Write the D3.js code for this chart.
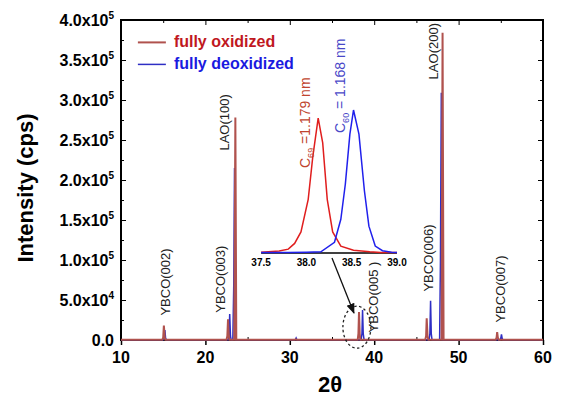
<!DOCTYPE html>
<html>
<head>
<meta charset="utf-8">
<script src="https://cdn.jsdelivr.net/npm/d3@7"></script>
<style>
  body { margin: 0; background: #fff; }
  text { font-family: Arial, "Liberation Sans", sans-serif; }
</style>
</head>
<body>
<div id="chart"></div>
<script>
// 2theta / intensity (cps) pairs
var oxidized = [
    [10, 400], [14.9, 400], [15.0, 3000], [15.08, 18000], [15.18, 3000], [15.25, 400],
    [22.5, 400], [22.6, 5000], [22.68, 26000], [22.78, 5000], [22.85, 400],
    [23.42, 400], [23.55, 278000], [23.66, 400],
    [30.6, 400], [30.7, 900], [30.8, 400],
    [38.05, 400], [38.13, 8000], [38.2, 35000], [38.28, 8000], [38.35, 400],
    [46.05, 400], [46.15, 5000], [46.22, 27000], [46.32, 5000], [46.42, 400],
    [47.98, 400], [48.1, 384000], [48.22, 400],
    [54.4, 400], [54.5, 3000], [54.57, 10000], [54.65, 3000], [54.75, 400],
    [60, 400]
];
var deoxidized = [
    [10, 300], [15.0, 300], [15.12, 2500], [15.2, 12500], [15.28, 2500], [15.38, 300],
    [22.7, 300], [22.8, 5000], [22.88, 32500], [22.97, 5000], [23.05, 300],
    [23.25, 300], [23.36, 69000], [23.45, 215000], [23.55, 300],
    [30.65, 300], [30.75, 2500], [30.85, 300],
    [38.45, 300], [38.55, 8000], [38.62, 37500], [38.7, 8000], [38.8, 300],
    [46.5, 300], [46.6, 8000], [46.68, 49000], [46.76, 8000], [46.85, 300],
    [47.75, 300], [47.85, 100000], [47.95, 309000], [48.06, 300],
    [54.9, 300], [55.0, 2000], [55.08, 7000], [55.16, 2000], [55.25, 300],
    [60, 300]
];

// zoomed YBCO(005) region shown in the inset
var insetOxidized = [
    [37.5, 200], [37.7, 500], [37.8, 1000], [37.87, 2500], [37.94, 5500], [38.02, 14000],
    [38.07, 25000], [38.13, 35200], [38.18, 28700], [38.23, 14000], [38.29, 5500],
    [38.38, 1800], [38.52, 700], [38.7, 300], [38.82, 150], [39.0, 100]
];
var insetDeoxidized = [
    [37.5, 100], [37.8, 150], [38.0, 200], [38.16, 300], [38.31, 2800], [38.38, 8800],
    [38.43, 18000], [38.48, 31000], [38.52, 37300], [38.58, 31000], [38.64, 16300],
    [38.69, 7000], [38.76, 1800], [38.84, 600], [38.94, 200], [39.0, 100]
];

var xTicks = [10, 20, 30, 40, 50, 60];
var yTicks = [0, 50000, 100000, 150000, 200000, 250000, 300000, 350000, 400000];
var insetTicks = [37.5, 38.0, 38.5, 39.0];

// peak labels: [text, 2theta at baseline, intensity at label centre]
var peakLabels = [
    ["YBCO(002)", 15.8, 72500],
    ["YBCO(003)", 22.3, 76000],
    ["LAO(100)", 22.78, 272000],
    ["YBCO(005 )", 40.4, 53750],
    ["YBCO(006)", 46.95, 102500],
    ["LAO(200)", 47.56, 361000],
    ["YBCO(007)", 55.5, 63750]
];

var redLine = "#b0524e";
var blueLine = "#2e2ec4";

var margin = { top: 20, right: 18, bottom: 57, left: 121 };
var width = 561 - margin.left - margin.right;
var height = 397 - margin.top - margin.bottom;

var svg = d3.select("#chart").append("svg")
    .attr("width", 561)
    .attr("height", 397)
    .append("g")
    .attr("transform", "translate(" + margin.left + "," + margin.top + ")");

var x = d3.scaleLinear().domain([10, 60]).range([0, width]);
var y = d3.scaleLinear().domain([0, 400000]).range([height, 0]);

// frame
svg.append("rect")
    .attr("width", width)
    .attr("height", height)
    .attr("fill", "none")
    .attr("stroke", "#000")
    .attr("stroke-width", 2);

// bottom axis: major out, minor in
svg.append("g")
    .attr("transform", "translate(0," + height + ")")
    .call(d3.axisBottom(x).tickValues(xTicks).tickSize(5).tickFormat(""))
    .call(g => g.select(".domain").remove())
    .selectAll("line").attr("stroke-width", 1.5);
svg.append("g")
    .attr("transform", "translate(0," + height + ")")
    .call(d3.axisTop(x).tickValues([15, 25, 35, 45, 55]).tickSize(3).tickFormat(""))
    .call(g => g.select(".domain").remove());
svg.selectAll(".xlab")
    .data(xTicks)
    .enter()
    .append("text")
    .attr("x", d => x(d))
    .attr("y", height + 23)
    .attr("text-anchor", "middle")
    .attr("font-size", "16px")
    .attr("font-weight", "bold")
    .text(d => d);

// top axis ticks inward
svg.append("g")
    .call(d3.axisBottom(x).tickValues(xTicks).tickSize(5).tickFormat(""))
    .call(g => g.select(".domain").remove());
svg.append("g")
    .call(d3.axisBottom(x).tickValues([15, 25, 35, 45, 55]).tickSize(3).tickFormat(""))
    .call(g => g.select(".domain").remove());

// left and right ticks inward
var yMinor = d3.range(25000, 400000, 50000);
svg.append("g")
    .call(d3.axisRight(y).tickValues(yTicks).tickSize(5).tickFormat(""))
    .call(g => g.select(".domain").remove());
svg.append("g")
    .call(d3.axisRight(y).tickValues(yMinor).tickSize(3).tickFormat(""))
    .call(g => g.select(".domain").remove());
svg.append("g")
    .attr("transform", "translate(" + width + ",0)")
    .call(d3.axisLeft(y).tickValues(yTicks).tickSize(5).tickFormat(""))
    .call(g => g.select(".domain").remove());
svg.append("g")
    .attr("transform", "translate(" + width + ",0)")
    .call(d3.axisLeft(y).tickValues(yMinor).tickSize(3).tickFormat(""))
    .call(g => g.select(".domain").remove());

// y tick labels like 4.0x10^5
var ylab = svg.selectAll(".ylab")
    .data(yTicks)
    .enter()
    .append("text")
    .attr("x", -7)
    .attr("y", d => y(d) + 6)
    .attr("text-anchor", "end")
    .attr("font-size", "16px")
    .attr("font-weight", "bold");
ylab.each(function(d) {
    var t = d3.select(this);
    if (d === 0) { t.text("0.0"); return; }
    var e = Math.floor(Math.log10(d));
    t.append("tspan").text((d / Math.pow(10, e)).toFixed(1) + "x10");
    t.append("tspan").attr("dy", -7).attr("font-size", "10px").text(e);
});

// axis titles
svg.append("text")
    .attr("x", width / 2 - 2)
    .attr("y", height + 52)
    .attr("text-anchor", "middle")
    .attr("font-size", "22px")
    .attr("font-weight", "bold")
    .text("2θ");
svg.append("text")
    .attr("transform", "rotate(-90)")
    .attr("x", -(188 - margin.top))
    .attr("y", 33 - margin.left)
    .attr("text-anchor", "middle")
    .attr("font-size", "22px")
    .attr("font-weight", "bold")
    .text("Intensity (cps)");

// data lines
var line = d3.line().x(d => x(d[0])).y(d => y(d[1]));
svg.append("path")
    .datum(deoxidized)
    .attr("d", line)
    .attr("fill", "none")
    .attr("stroke", blueLine)
    .attr("stroke-width", 1.5);
svg.append("path")
    .datum(oxidized)
    .attr("d", line)
    .attr("fill", "none")
    .attr("stroke", redLine)
    .attr("stroke-width", 2);

// peak labels
svg.selectAll(".peak")
    .data(peakLabels)
    .enter()
    .append("text")
    .attr("transform", d => "translate(" + x(d[1]) + "," + y(d[2]) + ") rotate(-90)")
    .attr("text-anchor", "middle")
    .attr("font-size", "13px")
    .attr("fill", "#222")
    .text(d => d[0]);

// legend
var legend = svg.append("g")
    .attr("transform", "translate(" + (x(12)) + "," + (y(372000)) + ")");
legend.append("line")
    .attr("x1", 0).attr("x2", 28).attr("y1", 0).attr("y2", 0)
    .attr("stroke", redLine).attr("stroke-width", 2);
legend.append("text")
    .attr("x", 36).attr("y", 5)
    .attr("font-size", "16px").attr("font-weight", "bold")
    .attr("fill", "#c0181e")
    .text("fully oxidized");
legend.append("line")
    .attr("x1", 0).attr("x2", 28).attr("y1", 22).attr("y2", 22)
    .attr("stroke", blueLine).attr("stroke-width", 1.5);
legend.append("text")
    .attr("x", 36).attr("y", 27)
    .attr("font-size", "16px").attr("font-weight", "bold")
    .attr("fill", "#1a1ae0")
    .text("fully deoxidized");

// inset
var ix = d3.scaleLinear().domain([37.5, 39.0]).range([x(26.6), x(42.7)]);
var iy = d3.scaleLinear().domain([0, 37300]).range([y(108750), y(287500)]);

svg.append("line")
    .attr("x1", ix(37.5)).attr("x2", ix(39.0))
    .attr("y1", iy(0)).attr("y2", iy(0))
    .attr("stroke", "#000").attr("stroke-width", 1.5);
svg.selectAll(".ilab")
    .data(insetTicks)
    .enter()
    .append("text")
    .attr("x", d => ix(d))
    .attr("y", iy(0) + 13)
    .attr("text-anchor", "middle")
    .attr("font-size", "10px")
    .attr("font-weight", "bold")
    .text(d => d.toFixed(1));

var iline = d3.line().x(d => ix(d[0])).y(d => iy(d[1]));
svg.append("path")
    .datum(insetOxidized)
    .attr("d", iline)
    .attr("fill", "none")
    .attr("stroke", "#e01e1e")
    .attr("stroke-width", 1.5);
svg.append("path")
    .datum(insetDeoxidized)
    .attr("d", iline)
    .attr("fill", "none")
    .attr("stroke", "#2020ec")
    .attr("stroke-width", 1.5);

var cRed = svg.append("text")
    .attr("transform", "translate(" + ix(38.04) + "," + iy(22170) + ") rotate(-90)")
    .attr("font-size", "14px")
    .attr("fill", "#c0442e");
cRed.append("tspan").text("C");
cRed.append("tspan").attr("dy", 4).attr("font-size", "9px").text("69");
cRed.append("tspan").attr("dy", -4).text(" =1.179 nm");

var cBlue = svg.append("text")
    .attr("transform", "translate(" + ix(38.43) + "," + iy(31300) + ") rotate(-90)")
    .attr("font-size", "14px")
    .attr("fill", "#4848c8");
cBlue.append("tspan").text("C");
cBlue.append("tspan").attr("dy", 4).attr("font-size", "9px").text("60");
cBlue.append("tspan").attr("dy", -4).text(" = 1.168 nm");

// dashed circle round YBCO(005) and arrow from the inset
svg.append("ellipse")
    .attr("cx", x(37.95))
    .attr("cy", y(16000))
    .attr("rx", 14)
    .attr("ry", 21)
    .attr("fill", "none")
    .attr("stroke", "#222")
    .attr("stroke-width", 1.3)
    .attr("stroke-dasharray", "2.5,2.5");

svg.append("defs").append("marker")
    .attr("id", "arrow")
    .attr("viewBox", "0 0 10 10")
    .attr("refX", 9).attr("refY", 5)
    .attr("markerWidth", 8).attr("markerHeight", 8)
    .attr("orient", "auto")
    .append("path")
    .attr("d", "M0,1 L10,5 L0,9 Z")
    .attr("fill", "#111");
svg.append("line")
    .attr("x1", x(35.0)).attr("y1", y(102500))
    .attr("x2", x(37.6)).attr("y2", y(33750))
    .attr("stroke", "#111")
    .attr("stroke-width", 1.3)
    .attr("marker-end", "url(#arrow)");
</script>
</body>
</html>
